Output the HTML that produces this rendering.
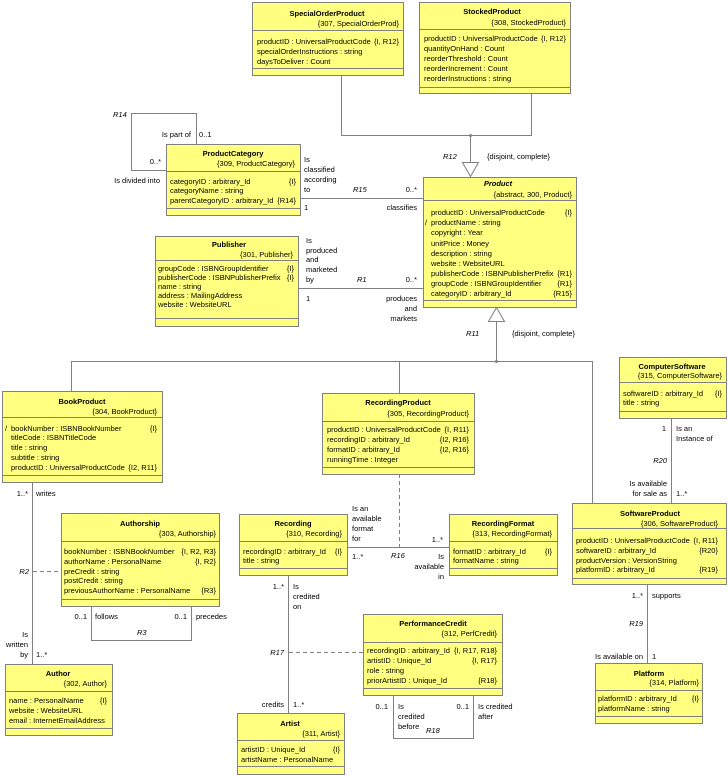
<!DOCTYPE html>
<html><head><meta charset="utf-8">
<style>
html,body{margin:0;padding:0;background:#fff;}
svg{display:block;}
text{font-family:"Liberation Sans",Arial,sans-serif;font-size:7.5px;fill:#000;}
.b{font-weight:bold;}
.i{font-style:italic;}
.e{text-anchor:end;}
.m{text-anchor:middle;}
.box{fill:#ffff80;stroke:#808080;stroke-width:1;}
.ln{fill:none;stroke:#808080;stroke-width:1;}
.dl{fill:none;stroke:#808080;stroke-width:1;stroke-dasharray:4,3;}
</style></head>
<body>
<svg width="728" height="777" viewBox="0 0 728 777" xmlns="http://www.w3.org/2000/svg">

<!-- connectors -->
<path class="ln" d="M341.5 75 V135.5 H531.5 V93"/>
<path class="ln" d="M470.5 135.5 V162"/>
<polygon points="462.5,162.5 478.5,162.5 470.5,176.5" fill="#fff" stroke="#808080"/>
<circle cx="470.5" cy="135.5" r="1.5" fill="#808080"/>

<path class="ln" d="M196.5 144 V113.5 H131.5 V170.5 H166"/>
<path class="ln" d="M300 198.5 H423"/>
<path class="ln" d="M298 288.5 H423"/>

<polygon points="496.5,307.5 488.5,321.5 504.5,321.5" fill="#fff" stroke="#808080"/>
<path class="ln" d="M496.5 321.5 V361.5"/>
<path class="ln" d="M71.5 391 V361.5 H592.5 V503"/>
<path class="ln" d="M399.5 361.5 V393"/>
<circle cx="496.5" cy="361.5" r="1.5" fill="#808080"/>

<path class="dl" d="M399.5 474 V547"/>
<path class="ln" d="M347 547.5 H449"/>
<path class="ln" d="M671.5 418 V503"/>
<path class="ln" d="M647.5 584 V663"/>
<path class="ln" d="M288.5 575 V713"/>
<path class="dl" d="M289 652.5 H363"/>
<path class="ln" d="M393.5 695 V738.5 H473.5 V695"/>
<path class="ln" d="M32.5 482 V664"/>
<path class="dl" d="M33 571.5 H61"/>
<path class="ln" d="M91.5 606 V640.5 H191.5 V606"/>

<!-- SpecialOrderProduct -->
<rect class="box" x="252.5" y="2.5" width="151" height="73"/>
<path class="ln" d="M252.5 30.5 H403.5 M252.5 68.5 H403.5"/>
<text class="b m" x="327" y="16">SpecialOrderProduct</text>
<text class="e" x="399" y="26">{307, SpecialOrderProd}</text>
<text x="257" y="44">productID : UniversalProductCode</text><text class="e" x="399" y="44">{I, R12}</text>
<text x="257" y="54">specialOrderInstructions : string</text>
<text x="257" y="64">daysToDeliver : Count</text>

<!-- StockedProduct -->
<rect class="box" x="419.5" y="2.5" width="151" height="91"/>
<path class="ln" d="M419.5 29.5 H570.5 M419.5 87.5 H570.5"/>
<text class="b m" x="492" y="14">StockedProduct</text>
<text class="e" x="566" y="25">{308, StockedProduct}</text>
<text x="424" y="41">productID : UniversalProductCode</text><text class="e" x="566" y="41">{I, R12}</text>
<text x="424" y="51">quantityOnHand : Count</text>
<text x="424" y="61">reorderThreshold : Count</text>
<text x="424" y="71">reorderIncrement : Count</text>
<text x="424" y="81">reorderInstructions : string</text>

<!-- ProductCategory -->
<rect class="box" x="166.5" y="144.5" width="134" height="71"/>
<path class="ln" d="M166.5 171.5 H300.5 M166.5 208.5 H300.5"/>
<text class="b m" x="233" y="156">ProductCategory</text>
<text class="e" x="295" y="166">{309, ProductCategory}</text>
<text x="170" y="184">categoryID : arbitrary_Id</text><text class="e" x="296" y="184">{I}</text>
<text x="170" y="193">categoryName : string</text>
<text x="170" y="203">parentCategoryID : arbitrary_Id</text><text class="e" x="296" y="203">{R14}</text>

<!-- Product -->
<rect class="box" x="423.5" y="177.5" width="153" height="130"/>
<path class="ln" d="M423.5 200.5 H576.5 M423.5 300.5 H576.5"/>
<text class="b i m" x="498" y="186">Product</text>
<text class="e" x="572" y="197">{abstract, 300, Product}</text>
<text x="431" y="215">productID : UniversalProductCode</text><text class="e" x="572" y="215">{I}</text>
<text x="425" y="225">/</text><text x="431" y="225">productName : string</text>
<text x="431" y="235">copyright : Year</text>
<text x="431" y="246">unitPrice : Money</text>
<text x="431" y="256">description : string</text>
<text x="431" y="266">website : WebsiteURL</text>
<text x="431" y="276">publisherCode : ISBNPublisherPrefix</text><text class="e" x="572" y="276">{R1}</text>
<text x="431" y="286">groupCode : ISBNGroupIdentifier</text><text class="e" x="572" y="286">{R1}</text>
<text x="431" y="296">categoryID : arbitrary_Id</text><text class="e" x="572" y="296">{R15}</text>

<!-- Publisher -->
<rect class="box" x="155.5" y="236.5" width="143" height="90"/>
<path class="ln" d="M155.5 260.5 H298.5 M155.5 318.5 H298.5"/>
<text class="b m" x="229" y="247">Publisher</text>
<text class="e" x="293" y="257">{301, Publisher}</text>
<text x="158" y="271">groupCode : ISBNGroupIdentifier</text><text class="e" x="294" y="271">{I}</text>
<text x="158" y="280">publisherCode : ISBNPublisherPrefix</text><text class="e" x="294" y="280">{I}</text>
<text x="158" y="289">name : string</text>
<text x="158" y="298">address : MailingAddress</text>
<text x="158" y="307">website : WebsiteURL</text>

<!-- BookProduct -->
<rect class="box" x="2.5" y="391.5" width="160" height="91"/>
<path class="ln" d="M2.5 417.5 H162.5 M2.5 475.5 H162.5"/>
<text class="b m" x="82" y="404">BookProduct</text>
<text class="e" x="157" y="414">{304, BookProduct}</text>
<text x="5" y="431">/</text><text x="11" y="431">bookNumber : ISBNBookNumber</text><text class="e" x="157" y="431">{I}</text>
<text x="11" y="440">titleCode : ISBNTitleCode</text>
<text x="11" y="450">title : string</text>
<text x="11" y="460">subtitle : string</text>
<text x="11" y="470">productID : UniversalProductCode</text><text class="e" x="157" y="470">{I2, R11}</text>

<!-- RecordingProduct -->
<rect class="box" x="322.5" y="393.5" width="152" height="81"/>
<path class="ln" d="M322.5 421.5 H474.5 M322.5 467.5 H474.5"/>
<text class="b m" x="398" y="405">RecordingProduct</text>
<text class="e" x="469" y="416">{305, RecordingProduct}</text>
<text x="327" y="432">productID : UniversalProductCode</text><text class="e" x="469" y="432">{I, R11}</text>
<text x="327" y="442">recordingID : arbitrary_Id</text><text class="e" x="469" y="442">{I2, R16}</text>
<text x="327" y="452">formatID : arbitrary_Id</text><text class="e" x="469" y="452">{I2, R16}</text>
<text x="327" y="462">runningTime : Integer</text>

<!-- Authorship -->
<rect class="box" x="61.5" y="513.5" width="158" height="93"/>
<path class="ln" d="M61.5 541.5 H219.5 M61.5 599.5 H219.5"/>
<text class="b m" x="140" y="526">Authorship</text>
<text class="e" x="216" y="536">{303, Authorship}</text>
<text x="64" y="554">bookNumber : ISBNBookNumber</text><text class="e" x="216" y="554">{I, R2, R3}</text>
<text x="64" y="564">authorName : PersonalName</text><text class="e" x="216" y="564">{I, R2}</text>
<text x="64" y="574">preCredit : string</text>
<text x="64" y="583">postCredit : string</text>
<text x="64" y="593">previousAuthorName : PersonalName</text><text class="e" x="216" y="593">{R3}</text>

<!-- Recording -->
<rect class="box" x="239.5" y="514.5" width="108" height="61"/>
<path class="ln" d="M239.5 541.5 H347.5 M239.5 568.5 H347.5"/>
<text class="b m" x="293" y="526">Recording</text>
<text class="e" x="342" y="536">{310, Recording}</text>
<text x="243" y="554">recordingID : arbitrary_Id</text><text class="e" x="342" y="554">{I}</text>
<text x="243" y="563">title : string</text>

<!-- RecordingFormat -->
<rect class="box" x="449.5" y="514.5" width="108" height="61"/>
<path class="ln" d="M449.5 541.5 H557.5 M449.5 568.5 H557.5"/>
<text class="b m" x="503" y="526">RecordingFormat</text>
<text class="e" x="552" y="536">{313, RecordingFormat}</text>
<text x="453" y="554">formatID : arbitrary_Id</text><text class="e" x="552" y="554">{I}</text>
<text x="453" y="563">formatName : string</text>

<!-- ComputerSoftware -->
<rect class="box" x="619.5" y="357.5" width="107" height="61"/>
<path class="ln" d="M619.5 382.5 H726.5 M619.5 411.5 H726.5"/>
<text class="b m" x="672" y="369">ComputerSoftware</text>
<text class="e" x="722" y="378">{315, ComputerSoftware}</text>
<text x="623" y="396">softwareID : arbitrary_Id</text><text class="e" x="722" y="396">{I}</text>
<text x="623" y="405">title : string</text>

<!-- SoftwareProduct -->
<rect class="box" x="572.5" y="503.5" width="154" height="81"/>
<path class="ln" d="M572.5 528.5 H726.5 M572.5 578.5 H726.5"/>
<text class="b m" x="650" y="516">SoftwareProduct</text>
<text class="e" x="718" y="526">{306, SoftwareProduct}</text>
<text x="576" y="543">productID : UniversalProductCode</text><text class="e" x="718" y="543">{I, R11}</text>
<text x="576" y="553">softwareID : arbitrary_Id</text><text class="e" x="718" y="553">{R20}</text>
<text x="576" y="563">productVersion : VersionString</text>
<text x="576" y="572">platformID : arbitrary_Id</text><text class="e" x="718" y="572">{R19}</text>

<!-- Platform -->
<rect class="box" x="595.5" y="663.5" width="107" height="60"/>
<path class="ln" d="M595.5 690.5 H702.5 M595.5 716.5 H702.5"/>
<text class="b m" x="649" y="676">Platform</text>
<text class="e" x="699" y="685">{314, Platform}</text>
<text x="598" y="701">platformID : arbitrary_Id</text><text class="e" x="699" y="701">{I}</text>
<text x="598" y="711">platformName : string</text>

<!-- PerformanceCredit -->
<rect class="box" x="363.5" y="614.5" width="139" height="81"/>
<path class="ln" d="M363.5 642.5 H502.5 M363.5 688.5 H502.5"/>
<text class="b m" x="433" y="626">PerformanceCredit</text>
<text class="e" x="497" y="636">{312, PerfCredit}</text>
<text x="367" y="653">recordingID : arbitrary_Id</text><text class="e" x="497" y="653">{I, R17, R18}</text>
<text x="367" y="663">artistID : Unique_Id</text><text class="e" x="497" y="663">{I, R17}</text>
<text x="367" y="673">role : string</text>
<text x="367" y="683">priorArtistID : Unique_Id</text><text class="e" x="497" y="683">{R18}</text>

<!-- Author -->
<rect class="box" x="5.5" y="664.5" width="107" height="71"/>
<path class="ln" d="M5.5 691.5 H112.5 M5.5 728.5 H112.5"/>
<text class="b m" x="58" y="676">Author</text>
<text class="e" x="107" y="686">{302, Author}</text>
<text x="9" y="703">name : PersonalName</text><text class="e" x="107" y="703">{I}</text>
<text x="9" y="713">website : WebsiteURL</text>
<text x="9" y="723">email : InternetEmailAddress</text>

<!-- Artist -->
<rect class="box" x="237.5" y="713.5" width="107" height="61"/>
<path class="ln" d="M237.5 740.5 H344.5 M237.5 766.5 H344.5"/>
<text class="b m" x="290" y="726">Artist</text>
<text class="e" x="340" y="736">{311, Artist}</text>
<text x="241" y="752">artistID : Unique_Id</text><text class="e" x="340" y="752">{I}</text>
<text x="241" y="762">artistName : PersonalName</text>

<!-- labels: R12 / R11 -->
<text class="i" x="443" y="159">R12</text>
<text x="487" y="159">{disjoint, complete}</text>
<text class="i" x="466" y="336">R11</text>
<text x="512" y="336">{disjoint, complete}</text>

<!-- R14 -->
<text class="i" x="113" y="117">R14</text>
<text class="e" x="191" y="137">Is part of</text>
<text x="199" y="137">0..1</text>
<text class="e" x="161" y="164">0..*</text>
<text class="e" x="160" y="183">Is divided into</text>

<!-- R15 -->
<text x="304" y="162">Is</text>
<text x="304" y="172">classified</text>
<text x="304" y="182">according</text>
<text x="304" y="192">to</text>
<text class="i" x="353" y="192">R15</text>
<text class="e" x="417" y="192">0..*</text>
<text x="304" y="210">1</text>
<text class="e" x="417" y="210">classifies</text>

<!-- R1 -->
<text x="306" y="243">Is</text>
<text x="306" y="253">produced</text>
<text x="306" y="262">and</text>
<text x="306" y="272">marketed</text>
<text x="306" y="282">by</text>
<text class="i" x="357" y="282">R1</text>
<text class="e" x="417" y="282">0..*</text>
<text x="306" y="301">1</text>
<text class="e" x="417" y="301">produces</text>
<text class="e" x="417" y="311">and</text>
<text class="e" x="417" y="321">markets</text>

<!-- R2 -->
<text class="e" x="28" y="496">1..*</text>
<text x="36" y="496">writes</text>
<text class="i e" x="29" y="574">R2</text>
<text class="e" x="28" y="637">Is</text>
<text class="e" x="28" y="647">written</text>
<text class="e" x="28" y="657">by</text>
<text x="36" y="657">1..*</text>

<!-- R3 -->
<text class="e" x="87" y="619">0..1</text>
<text x="95" y="619">follows</text>
<text class="e" x="187" y="619">0..1</text>
<text x="196" y="619">precedes</text>
<text class="i" x="137" y="635">R3</text>

<!-- R16 -->
<text x="352" y="511">Is an</text>
<text x="352" y="521">available</text>
<text x="352" y="531">format</text>
<text x="352" y="541">for</text>
<text x="352" y="559">1..*</text>
<text class="i" x="391" y="558">R16</text>
<text class="e" x="443" y="542">1..*</text>
<text class="e" x="444" y="559">Is</text>
<text class="e" x="444" y="569">available</text>
<text class="e" x="444" y="579">in</text>

<!-- R17 -->
<text class="e" x="284" y="589">1..*</text>
<text x="293" y="589">Is</text>
<text x="293" y="599">credited</text>
<text x="293" y="609">on</text>
<text class="i e" x="284" y="655">R17</text>
<text class="e" x="284" y="707">credits</text>
<text x="293" y="707">1..*</text>

<!-- R18 -->
<text class="e" x="388" y="709">0..1</text>
<text x="398" y="709">Is</text>
<text x="398" y="719">credited</text>
<text x="398" y="729">before</text>
<text class="i" x="426" y="733">R18</text>
<text class="e" x="469" y="709">0..1</text>
<text x="478" y="709">Is credited</text>
<text x="478" y="719">after</text>

<!-- R20 -->
<text class="e" x="666" y="431">1</text>
<text x="676" y="431">Is an</text>
<text x="676" y="441">Instance of</text>
<text class="i e" x="667" y="463">R20</text>
<text class="e" x="667" y="486">Is available</text>
<text class="e" x="667" y="496">for sale as</text>
<text x="676" y="496">1..*</text>

<!-- R19 -->
<text class="e" x="643" y="598">1..*</text>
<text x="652" y="598">supports</text>
<text class="i e" x="643" y="626">R19</text>
<text class="e" x="643" y="659">Is available on</text>
<text x="652" y="659">1</text>

</svg>
</body></html>
